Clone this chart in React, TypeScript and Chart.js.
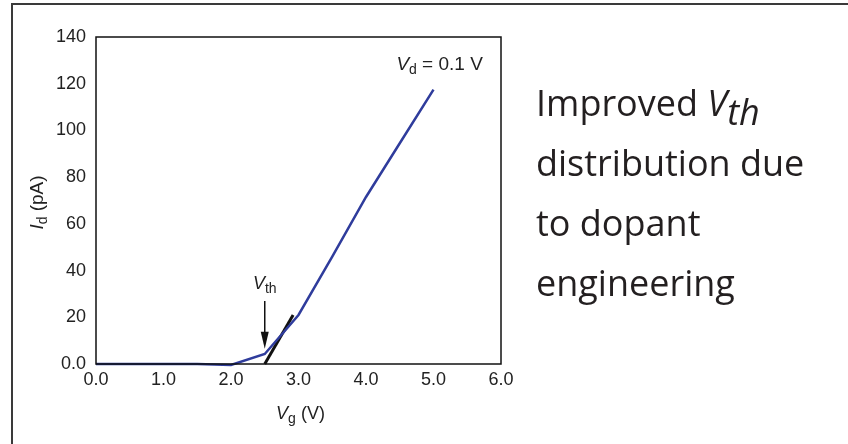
import React, { useEffect, useRef } from "react";
import { Chart, registerables } from "chart.js";
Chart.register(...registerables);

// Data
const vgValues = [0, 0.5, 1, 1.5, 2, 2.5, 3, 3.5, 4, 4.5, 5];
const idValues = [0, 0, 0, 0, -0.4, 4.3, 21, 46, 71.5, 94.5, 117.5];
const tangentVg = [2.5, 2.92];
const tangentId = [0, 21];
const xTickLabels = ["0.0", "1.0", "2.0", "3.0", "4.0", "5.0", "6.0"];
const yTickLabels = ["0.0", "20", "40", "60", "80", "100", "120", "140"];
const arrowVg = 2.5;
const arrowFromId = 27;
const arrowToId = 6.5;
const vthLabelPos = [2.5, 32.3];
const vdLabelPos = [4.45, 125.8];

const FONT = '"Liberation Sans", Arial, sans-serif';
const TEXT = "#222";

type Part = { t: string; i?: boolean; s?: boolean };

function drawRich(ctx: CanvasRenderingContext2D, parts: Part[], x: number, y: number, align: string, size = 18) {
  const fontFor = (p: Part) => `${p.i ? "italic " : ""}${p.s ? Math.round(size * 0.75) : size}px ${FONT}`;
  const widths = parts.map((p) => {
    ctx.font = fontFor(p);
    return ctx.measureText(p.t).width;
  });
  const total = widths.reduce((a, b) => a + b, 0);
  let cx = align === "center" ? x - total / 2 : align === "right" ? x - total : x;
  ctx.textAlign = "left";
  ctx.textBaseline = "alphabetic";
  parts.forEach((p, k) => {
    ctx.font = fontFor(p);
    ctx.fillText(p.t, cx, y + (p.s ? Math.round(size * 0.22) : 0));
    cx += widths[k];
  });
}

const annotations = {
  id: "annotations",
  afterDatasetsDraw(chart: any) {
    const ctx: CanvasRenderingContext2D = chart.ctx;
    const xs = chart.scales.x;
    const ys = chart.scales.y;
    const area = chart.chartArea;
    ctx.save();
    // plot box
    ctx.strokeStyle = "#111";
    ctx.lineWidth = 1.5;
    ctx.strokeRect(area.left, area.top, area.right - area.left, area.bottom - area.top);

    // arrow
    const ax = xs.getPixelForValue(arrowVg);
    const ay0 = ys.getPixelForValue(arrowFromId);
    const ay1 = ys.getPixelForValue(arrowToId);
    ctx.strokeStyle = "#111";
    ctx.lineWidth = 1.5;
    ctx.beginPath();
    ctx.moveTo(ax, ay0);
    ctx.lineTo(ax, ay1 - 14);
    ctx.stroke();
    ctx.fillStyle = "#111";
    ctx.beginPath();
    ctx.moveTo(ax, ay1);
    ctx.lineTo(ax - 4, ay1 - 17);
    ctx.lineTo(ax + 4, ay1 - 17);
    ctx.closePath();
    ctx.fill();

    ctx.fillStyle = TEXT;
    drawRich(ctx, [{ t: "V", i: true }, { t: "th", s: true }],
      xs.getPixelForValue(vthLabelPos[0]), ys.getPixelForValue(vthLabelPos[1]), "center", 18);
    drawRich(ctx, [{ t: "V", i: true }, { t: "d", s: true }, { t: " = 0.1 V" }],
      xs.getPixelForValue(vdLabelPos[0]), ys.getPixelForValue(vdLabelPos[1]), "left", 19);

    // axis titles
    drawRich(ctx, [{ t: "V", i: true }, { t: "g", s: true }, { t: " (V)" }],
      (area.left + area.right) / 2 + 2, 419, "center", 18);
    ctx.translate(43, (area.top + area.bottom) / 2 + 2);
    ctx.rotate(-Math.PI / 2);
    drawRich(ctx, [{ t: "I", i: true }, { t: "d", s: true }, { t: " (pA)" }], 0, 0, "center", 19);
    ctx.restore();
  },
};

export default function App() {
  const ref = useRef<HTMLCanvasElement>(null);
  useEffect(() => {
    if (!ref.current) return;
    const chart = new Chart(ref.current, {
      type: "line",
      data: {
        datasets: [
          {
            data: vgValues.map((v, i) => ({ x: v, y: idValues[i] })),
            borderColor: "#2f3c9c",
            borderWidth: 2.5,
            pointRadius: 0,
            tension: 0,
            clip: false as any,
            order: 0,
          },
          {
            data: tangentVg.map((v, i) => ({ x: v, y: tangentId[i] })),
            borderColor: "#111",
            borderWidth: 3,
            pointRadius: 0,
            clip: false as any,
            order: 1,
          },
        ],
      },
      options: {
        animation: false,
        responsive: false,
        events: [],
        layout: { padding: { left: 0, right: 347, top: 37, bottom: 0 } },
        plugins: { legend: { display: false }, tooltip: { enabled: false } },
        scales: {
          x: {
            type: "linear",
            min: 0,
            max: 6,
            grid: { display: false, drawTicks: false },
            border: { display: false },
            ticks: {
              stepSize: 1,
              padding: 5,
              color: TEXT,
              font: { family: FONT, size: 18 },
              maxRotation: 0,
              callback: (v: any) => xTickLabels[Math.round(Number(v))],
            },
            afterFit: (axis: any) => { axis.height = 80; },
          },
          y: {
            type: "linear",
            min: 0,
            max: 140,
            grid: { display: false, drawTicks: false },
            border: { display: false },
            ticks: {
              stepSize: 20,
              padding: 10,
              color: TEXT,
              font: { family: FONT, size: 18 },
              callback: (v: any) => yTickLabels[Math.round(Number(v) / 20)],
            },
            afterFit: (axis: any) => { axis.width = 96; },
          },
        },
      },
      plugins: [annotations],
    });
    return () => chart.destroy();
  }, []);

  return (
    <div style={{ position: "fixed", left: 0, top: 0, width: 848, height: 444, background: "#fff", overflow: "hidden" }}>
      <div style={{ position: "absolute", left: 11, top: 3, width: 900, height: 500, borderTop: "2px solid #3a3a3a", borderLeft: "2px solid #3a3a3a" }} />
      <canvas ref={ref} width={848} height={444} style={{ position: "absolute", left: 0, top: 0, display: "block" }} />
      <div style={{ position: "absolute", left: 536, top: 73, fontFamily: '"Open Sans", sans-serif', fontSize: 36, lineHeight: "60px", color: "#231f20", whiteSpace: "nowrap" }}>
        Improved <i>V</i><i style={{ position: "relative", top: 9 }}>th</i>
        <br />distribution due
        <br />to dopant
        <br />engineering
      </div>
    </div>
  );
}
